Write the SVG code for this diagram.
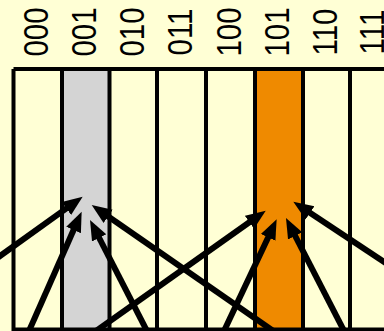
<svg xmlns="http://www.w3.org/2000/svg" width="384" height="331" viewBox="0 0 384 331">
  <defs>
    <style>
      .bg { fill: #FFFFD5; }
      .cell { fill: #FFFFD5; stroke: none; }
      .gray { fill: #D4D4D4; }
      .orange { fill: #EF8A00; }
      .grid { stroke: #000; stroke-width: 4; fill: none; }
      .lbl { font-family: "Liberation Sans", Arial, sans-serif; font-size: 36px; fill: #000; text-anchor: middle; }
      .arrow { stroke: #000; stroke-width: 6; fill: none; marker-end: url(#head); }
    </style>
    <marker id="head" markerUnits="userSpaceOnUse" markerWidth="22" markerHeight="18" refX="6" refY="8" orient="auto" viewBox="0 0 22 16">
      <path d="M0,0 L20,8 L0,16 Z" fill="#000"/>
    </marker>
  </defs>
  <rect class="bg" x="0" y="0" width="384" height="331"/>

  <g id="col-000">
    <text class="lbl" transform="translate(48,32) rotate(-90) scale(0.82,1)">000</text>
  </g>
  <g id="col-001">
    <rect class="gray" x="62" y="69" width="47.5" height="262"/>
    <text class="lbl" transform="translate(96,32) rotate(-90) scale(0.82,1)">001</text>
  </g>
  <g id="col-010">
    <text class="lbl" transform="translate(143.5,32) rotate(-90) scale(0.82,1)">010</text>
  </g>
  <g id="col-011">
    <text class="lbl" transform="translate(191.5,32) rotate(-90) scale(0.82,1)">011</text>
  </g>
  <g id="col-100">
    <text class="lbl" transform="translate(240.5,32) rotate(-90) scale(0.82,1)">100</text>
  </g>
  <g id="col-101">
    <rect class="orange" x="255" y="69" width="48" height="262"/>
    <text class="lbl" transform="translate(289,32) rotate(-90) scale(0.82,1)">101</text>
  </g>
  <g id="col-110">
    <text class="lbl" transform="translate(336.5,32) rotate(-90) scale(0.82,1)">110</text>
  </g>
  <g id="col-111">
    <text class="lbl" transform="translate(384,32) rotate(-90) scale(0.82,1)">111</text>
  </g>

  <g id="grid">
    <path class="grid" d="M13.5,69 H400 M13.5,329.5 H400 M13.5,69 V331 M62,69 V331 M109.5,69 V331 M157,69 V331 M206,69 V331 M255,69 V331 M303,69 V331 M350,69 V331"/>
  </g>

  <g id="connectors">
    <line class="arrow" x1="-10" y1="263.2" x2="71.3" y2="204.9"/>
    <line class="arrow" x1="25" y1="340" x2="76" y2="224.5"/>
    <line class="arrow" x1="282" y1="337" x2="103.2" y2="213"/>
    <line class="arrow" x1="151.6" y1="340" x2="96.4" y2="232.5"/>
    <line class="arrow" x1="89.5" y1="335.6" x2="254.3" y2="218.8"/>
    <line class="arrow" x1="220.6" y1="338.2" x2="270.7" y2="232"/>
    <line class="arrow" x1="347.7" y1="338" x2="292.4" y2="230.5"/>
    <line class="arrow" x1="400.7" y1="273" x2="305" y2="209.5"/>
  </g>
</svg>
